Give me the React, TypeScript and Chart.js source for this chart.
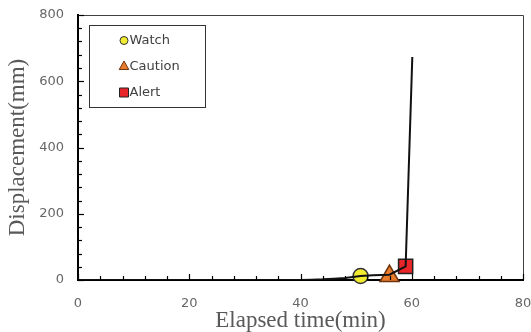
import React, { useEffect, useRef } from "react";
import { Chart, registerables } from "chart.js";

Chart.register(...registerables);

// Data
const timeMin = [0, 5, 10, 15, 20, 25, 30, 35, 40, 42, 44, 46, 48, 50.8, 53, 56, 58.9, 60.1];
const displacementMm = [0, 0, 0, 0, 0, 0, 0, 0, 0, 1, 2, 4, 6, 12, 14, 16, 41, 673];

const markerLabels = ["Watch", "Caution", "Alert"];
const markerTimes = [50.8, 56.0, 58.9];
const markerValues = [12, 12, 41];

const xTicks = [0, 20, 40, 60, 80];
const yTicks = [0, 200, 400, 600, 800];

const markerFill = ["#f2ec30", "#e97b2c", "#e8262a"];
const markerBorder = ["#333333", "#6b3510", "#222222"];
const markerStyle = ["circle", "triangle", "rect"];
const markerRadius = [7.5, 11, 10];

const tickFont = { family: "DejaVu Sans", size: 13 };
const tickColor = "#666666";

function drawMini(ctx: CanvasRenderingContext2D, style: string, x: number, y: number) {
  ctx.beginPath();
  if (style === "circle") {
    ctx.arc(x, y, 4, 0, Math.PI * 2);
  } else if (style === "triangle") {
    ctx.moveTo(x, y - 5.5);
    ctx.lineTo(x + 4.8, y + 3);
    ctx.lineTo(x - 4.8, y + 3);
    ctx.closePath();
  } else {
    ctx.rect(x - 4.5, y - 4.5, 9, 9);
  }
  ctx.fill();
  ctx.stroke();
}

const framePlugin = {
  id: "frameAndTicks",
  afterDatasetsDraw(chart: any) {
    const { ctx, chartArea } = chart;
    const xs = chart.scales.x;
    const ys = chart.scales.y;
    ctx.save();
    ctx.strokeStyle = "#404040";
    ctx.lineWidth = 1;
    ctx.beginPath();
    ctx.moveTo(chartArea.left, chartArea.top + 0.5);
    ctx.lineTo(chartArea.right + 0.5, chartArea.top + 0.5);
    ctx.lineTo(chartArea.right + 0.5, chartArea.bottom);
    ctx.stroke();
    ctx.strokeStyle = "#000";
    ctx.lineWidth = 1.2;
    xs.ticks.forEach((t: any, i: number) => {
      const px = Math.round(xs.getPixelForTick(i)) + 0.5;
      const len = xTicks.includes(t.value) ? 6 : 4;
      ctx.beginPath();
      ctx.moveTo(px, chartArea.bottom);
      ctx.lineTo(px, chartArea.bottom - len);
      ctx.stroke();
    });
    ys.ticks.forEach((t: any, i: number) => {
      const py = Math.round(ys.getPixelForTick(i)) + 0.5;
      const len = yTicks.includes(t.value) ? 6 : 4;
      ctx.beginPath();
      ctx.moveTo(chartArea.left, py);
      ctx.lineTo(chartArea.left + len, py);
      ctx.stroke();
    });
    ctx.restore();
  },
  afterDraw(chart: any) {
    const { ctx, chartArea } = chart;
    ctx.save();
    const fx = chartArea.left + 11.5;
    const fy = chartArea.top + 10.5;
    ctx.strokeStyle = "#333";
    ctx.lineWidth = 1;
    ctx.strokeRect(fx, fy, 116, 82);
    ctx.font = "13px 'DejaVu Sans'";
    ctx.textBaseline = "middle";
    ctx.textAlign = "left";
    const items = chart.data.datasets.filter((d: any) => d.isMarker);
    items.forEach((d: any, i: number) => {
      const cy = fy + 15 + i * 26;
      const cx = fx + 34.5;
      ctx.fillStyle = d.backgroundColor;
      ctx.strokeStyle = d.borderColor;
      ctx.lineWidth = 1;
      drawMini(ctx, d.pointStyle, cx, cy);
      ctx.fillStyle = "#404040";
      ctx.fillText(d.label, cx + 5.5, cy);
    });
    ctx.restore();
  },
};

export default function App() {
  const ref = useRef<HTMLCanvasElement>(null);
  useEffect(() => {
    document.body.style.margin = "0";
    const lineData = timeMin.map((x, i) => ({ x, y: displacementMm[i] }));
    const markerSets = markerLabels.map((label, i) => ({
      label,
      isMarker: true,
      data: [{ x: markerTimes[i], y: markerValues[i] }],
      pointStyle: markerStyle[i],
      pointRadius: markerRadius[i],
      pointBackgroundColor: markerFill[i],
      pointBorderColor: markerBorder[i],
      backgroundColor: markerFill[i],
      borderColor: markerBorder[i],
      pointBorderWidth: 1.5,
      showLine: false,
      clip: false,
    }));
    const chart = new Chart(ref.current!, {
      type: "scatter",
      data: {
        datasets: [
          {
            label: "Displacement",
            data: lineData,
            showLine: true,
            borderColor: "#111111",
            borderWidth: 2,
            pointRadius: 0,
            tension: 0,
          } as any,
          ...markerSets,
        ],
      },
      options: {
        animation: false,
        responsive: false,
        layout: { autoPadding: false, padding: { top: 15, right: 8, left: 0, bottom: 0 } },
        plugins: { legend: { display: false }, tooltip: { enabled: false } },
        scales: {
          x: {
            type: "linear",
            min: 0,
            max: 80,
            afterFit: (s: any) => {
              s.height = 52;
              s.paddingLeft = 0;
              s.paddingRight = 0;
            },
            border: { display: true, color: "#000", width: 2 },
            grid: {
              drawOnChartArea: false,
              drawTicks: true,
              tickLength: 16,
              tickColor: "rgba(0,0,0,0)",
              color: "rgba(0,0,0,0)",
            },
            ticks: {
              stepSize: 4,
              autoSkip: false,
              maxRotation: 0,
              padding: 0,
              color: tickColor,
              font: tickFont,
              callback: (v: any) => (xTicks.includes(v) ? String(v) : ""),
            },
            title: {
              display: true,
              text: "Elapsed time(min)",
              color: "#595959",
              font: { family: "Liberation Serif", size: 23, lineHeight: 1 },
              padding: { top: 0, bottom: 0 },
            },
          },
          y: {
            type: "linear",
            min: 0,
            max: 800,
            afterFit: (s: any) => {
              s.width = 78;
              s.paddingTop = 0;
              s.paddingBottom = 0;
            },
            border: { display: true, color: "#000", width: 2 },
            grid: {
              drawOnChartArea: false,
              drawTicks: true,
              tickLength: 14,
              tickColor: "rgba(0,0,0,0)",
              color: "rgba(0,0,0,0)",
            },
            ticks: {
              stepSize: 40,
              autoSkip: false,
              padding: 0,
              color: tickColor,
              font: tickFont,
              callback: (v: any) => (yTicks.includes(v) ? String(v) : ""),
            },
            title: {
              display: true,
              text: "Displacement(mm)",
              color: "#595959",
              font: { family: "Liberation Serif", size: 23 },
              padding: { top: 4, bottom: 0 },
            },
          },
        },
      },
      plugins: [framePlugin],
    } as any);
    return () => chart.destroy();
  }, []);
  return (
    <div style={{ position: "absolute", left: 0, top: 0, width: 531, height: 332 }}>
      <canvas ref={ref} width={531} height={332} style={{ display: "block" }} />
    </div>
  );
}
